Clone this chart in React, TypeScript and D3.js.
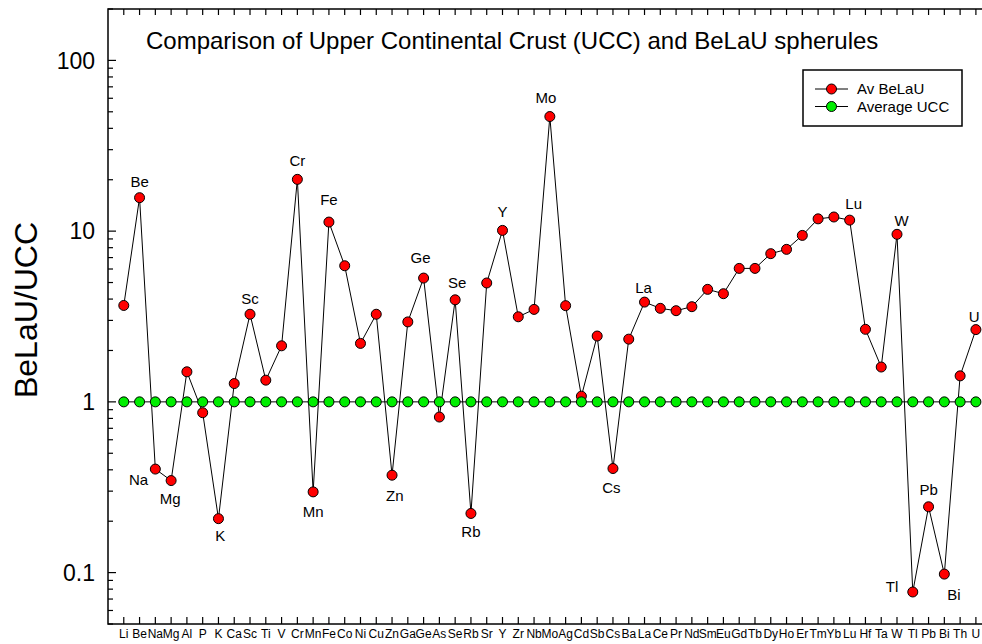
import React from "react";
import * as d3 from "d3";

const elements = ["Li","Be","Na","Mg","Al","P","K","Ca","Sc","Ti","V","Cr","Mn","Fe","Co","Ni","Cu","Zn","Ga","Ge","As","Se","Rb","Sr","Y","Zr","Nb","Mo","Ag","Cd","Sb","Cs","Ba","La","Ce","Pr","Nd","Sm","Eu","Gd","Tb","Dy","Ho","Er","Tm","Yb","Lu","Hf","Ta","W","Tl","Pb","Bi","Th","U"];

const avBeLaU = [3.67,15.7,0.404,0.346,1.50,0.864,0.207,1.28,3.26,1.34,2.13,20.1,0.297,11.3,6.27,2.20,3.26,0.372,2.94,5.31,0.815,3.96,0.222,4.97,10.1,3.15,3.48,46.9,3.66,1.08,2.43,0.407,2.33,3.84,3.53,3.42,3.61,4.56,4.30,6.05,6.05,7.38,7.82,9.44,11.8,12.1,11.6,2.66,1.60,9.58,0.077,0.243,0.098,1.42,2.65];

const averageUCC = elements.map(() => 1);

const yTickValues = [0.1, 1, 10, 100];
const yTickLabels = ["0.1", "1", "10", "100"];

const seriesNames = ["Av BeLaU", "Average UCC"];
const seriesColors = ["#ff0000", "#00ee00"];

const titleText = "Comparison of Upper Continental Crust (UCC) and BeLaU spherules";
const yAxisTitle = "BeLaU/UCC";

// annotation label offsets (style, not data)
const labelOffsets: Record<string, [number, number]> = {
  Be: [0, -15.6], Cr: [0, -19], Fe: [0, -22.7], Sc: [0, -15.6], Ge: [-3, -20.3],
  Se: [2, -17.7], Y: [0, -19], Mo: [-4, -19], La: [-1, -14.3], Lu: [4, -17],
  W: [4.7, -14], Na: [-16.7, 11], Mg: [-1, 17.7], K: [1.7, 17.4], Mn: [0, 20],
  Zn: [2.7, 20], Rb: [0, 18.4], Cs: [-1.6, 19], Tl: [-20.7, -5.6], Pb: [0, -17],
  Bi: [9.7, 20], U: [-1.7, -13],
};

const W = 982, H = 644;
const left = 108, top = 9, bottom = 624;
const step = 15.78;
const right = left + 56 * step;
const font = "Arial, 'Liberation Sans', Helvetica, sans-serif";

export default function App() {
  const x = d3.scaleLinear().domain([0, 56]).range([left, right]);
  const y = d3.scaleLog().domain([0.05, 200]).range([bottom, top]);
  const idx = elements.map((_, i) => i + 1);
  const line = d3.line<number>().x((d, i) => x(idx[i])).y((d) => y(d));

  const minorTicks: number[] = [];
  [0.01, 0.1, 1, 10, 100].forEach((dec) => {
    for (let k = 2; k <= 9; k++) {
      const v = dec * k;
      if (v > 0.05 - 1e-9 && v < 200 + 1e-9) minorTicks.push(v);
    }
  });

  const r = 5;
  return (
    <div style={{ position: "absolute", left: 0, top: 0 }}>
      <svg width={W} height={H} style={{ display: "block", background: "#fff" }} fontFamily={font}>
        <rect x={0} y={0} width={W} height={H} fill="#fff" />
        {/* frame */}
        <rect x={left} y={top} width={right - left} height={bottom - top} fill="none" stroke="#000" strokeWidth={1.5} />
        {/* x ticks bottom and top */}
        {idx.map((v) => (
          <g key={"xt" + v}>
            <line x1={x(v)} x2={x(v)} y1={bottom} y2={bottom - 7} stroke="#000" strokeWidth={1.2} />
            <line x1={x(v)} x2={x(v)} y1={top} y2={top + 6} stroke="#000" strokeWidth={1.2} />
            <text x={x(v)} y={638} fontSize={12} textAnchor="middle" fill="#000">{elements[v - 1]}</text>
          </g>
        ))}
        {/* y ticks */}
        {yTickValues.map((v, i) => (
          <g key={"yt" + v}>
            <line x1={left} x2={left + 8} y1={y(v)} y2={y(v)} stroke="#000" strokeWidth={1.2} />
            <text x={95} y={y(v)} dy="0.36em" fontSize={23} textAnchor="end" fill="#000">{yTickLabels[i]}</text>
          </g>
        ))}
        {minorTicks.map((v) => (
          <line key={"ym" + v} x1={left} x2={left + 5} y1={y(v)} y2={y(v)} stroke="#000" strokeWidth={1.2} />
        ))}
        {/* title */}
        <text x={146} y={40} dy="0.36em" fontSize={24} fill="#000">{titleText}</text>
        {/* y axis title */}
        <text transform={`translate(25,310) rotate(-90)`} dy="0.36em" fontSize={32} textAnchor="middle" fill="#000">{yAxisTitle}</text>
        {/* series lines */}
        <path d={line(avBeLaU) || ""} fill="none" stroke="#000" strokeWidth={1} />
        {avBeLaU.map((v, i) => (
          <circle key={"r" + i} cx={x(idx[i])} cy={y(v)} r={r} fill={seriesColors[0]} stroke="#000" strokeWidth={1} />
        ))}
        <path d={line(averageUCC) || ""} fill="none" stroke="#000" strokeWidth={1} />
        {averageUCC.map((v, i) => (
          <circle key={"g" + i} cx={x(idx[i])} cy={y(v)} r={r} fill={seriesColors[1]} stroke="#000" strokeWidth={1} />
        ))}
        {/* annotations */}
        {elements.map((el, i) => {
          const off = labelOffsets[el];
          if (!off) return null;
          return (
            <text key={"lab" + el} x={x(idx[i]) + off[0]} y={y(avBeLaU[i]) + off[1]} dy="0.36em" fontSize={15} textAnchor="middle" fill="#000">{el}</text>
          );
        })}
        {/* legend */}
        <rect x={803} y={70} width={159} height={56} fill="#fff" stroke="#000" strokeWidth={1.5} />
        {seriesNames.map((name, i) => {
          const ly = 89 + i * 17.5;
          return (
            <g key={"lg" + i}>
              <line x1={815} x2={848} y1={ly} y2={ly} stroke="#000" strokeWidth={1} />
              <circle cx={831.5} cy={ly} r={r} fill={seriesColors[i]} stroke="#000" strokeWidth={1} />
              <text x={857} y={ly} dy="0.36em" fontSize={15} fill="#000">{name}</text>
            </g>
          );
        })}
      </svg>
    </div>
  );
}
